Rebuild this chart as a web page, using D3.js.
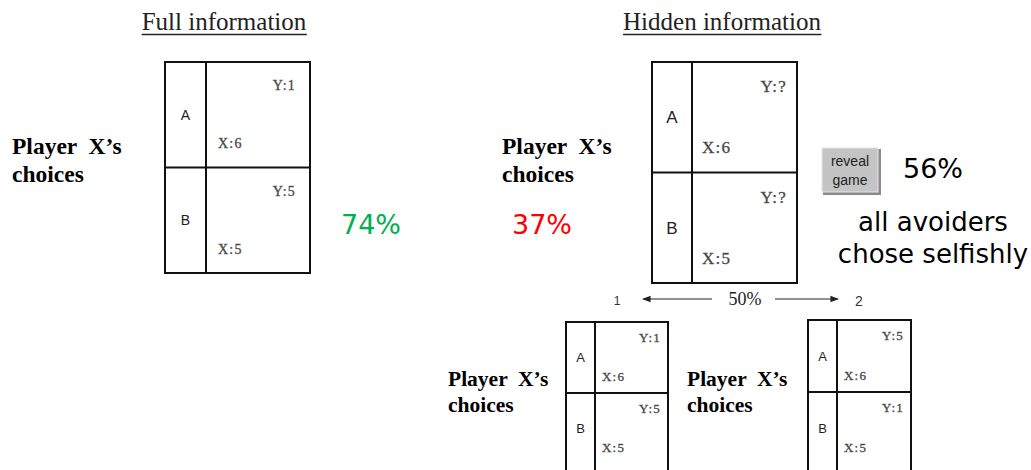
<!DOCTYPE html>
<html>
<head>
<meta charset="utf-8">
<script src="https://cdn.jsdelivr.net/npm/d3@7"></script>
<style>
  body { margin: 0; background: #fff; }
  svg { display: block; }
  text { white-space: pre; }
</style>
</head>
<body>
<svg id="fig" width="1031" height="470"></svg>
<script>
// Data
var choices = ["A", "B"];
var payoffX = [6, 5];
var fullY = ["1", "5"];
var hiddenY = ["?", "?"];
var game1Y = ["1", "5"];
var game2Y = ["5", "1"];
var titles = ["Full information", "Hidden information"];
var playerLabel = ["Player  X\u2019s", "choices"];
var selfishShare = ["74%", "37%", "56%"];
var splitShare = "50%";
var avoiderNote = ["all avoiders", "chose selfishly"];

var svg = d3.select("#fig");

// Titles, underlined
function title(txt, cx) {
  let t = svg.append("text")
    .attr("x", cx)
    .attr("y", 30)
    .attr("text-anchor", "middle")
    .attr("font-family", "Liberation Serif, Times New Roman, serif")
    .attr("font-size", 25)
    .attr("fill", "#222")
    .text(txt);
  let bb = t.node().getBBox();
  svg.append("line")
    .attr("x1", bb.x).attr("x2", bb.x + bb.width)
    .attr("y1", 34.5).attr("y2", 34.5)
    .attr("stroke", "#222")
    .attr("stroke-width", 1.5);
}
title(titles[0], 224);
title(titles[1], 722);

// "Player X's choices" text block
function player(x, y, size, lead) {
  let t = svg.append("text")
    .attr("font-family", "Liberation Serif, Times New Roman, serif")
    .attr("font-weight", "bold")
    .attr("font-size", size)
    .attr("fill", "#000");
  t.selectAll("tspan")
    .data(playerLabel)
    .enter().append("tspan")
      .attr("x", x)
      .attr("y", (d, i) => y + i * lead)
      .text(d => d);
}
player(12, 154, 23.5, 28);
player(502, 154, 23.5, 28);
player(448, 386, 21.5, 26);
player(687, 386, 21.5, 26);

// Payoff matrix
function matrix(m, yPay) {
  let g = svg.append("g").attr("transform", `translate(${m.x}, ${m.y})`);
  let rows = d3.scaleBand()
    .domain(choices)
    .range([0, 2 * m.rowH]);

  g.append("rect")
    .attr("width", m.w).attr("height", m.h)
    .attr("fill", "#fff")
    .attr("stroke", "#111")
    .attr("stroke-width", 2);

  g.append("line")
    .attr("x1", m.labelW).attr("x2", m.labelW)
    .attr("y1", 0).attr("y2", m.h)
    .attr("stroke", "#111").attr("stroke-width", 2);

  g.append("line")
    .attr("x1", 0).attr("x2", m.w)
    .attr("y1", rows("B")).attr("y2", rows("B"))
    .attr("stroke", "#111").attr("stroke-width", 2);

  let cell = g.selectAll(".cell")
    .data(choices)
    .enter().append("g")
      .attr("class", "cell")
      .attr("transform", d => `translate(0, ${rows(d)})`);

  cell.append("text")
    .attr("x", m.labelW / 2)
    .attr("y", rows.bandwidth() / 2)
    .attr("dy", "0.35em")
    .attr("text-anchor", "middle")
    .attr("font-family", "Liberation Sans, Arial, sans-serif")
    .attr("font-size", m.fs + 1)
    .attr("fill", "#222")
    .text(d => d);

  cell.append("text")
    .attr("x", m.w - m.padR)
    .attr("y", rows.bandwidth() * 0.22)
    .attr("dy", "0.35em")
    .attr("text-anchor", "end")
    .attr("font-family", "Liberation Serif, Times New Roman, serif")
    .attr("font-size", m.fs + 1)
    .attr("letter-spacing", 1.2)
    .attr("fill", "#444")
    .attr("stroke", "#555")
    .attr("stroke-width", 0.35)
    .text((d, i) => "Y:" + yPay[i]);

  cell.append("text")
    .attr("x", m.labelW + m.padL)
    .attr("y", rows.bandwidth() * 0.77)
    .attr("dy", "0.35em")
    .attr("font-family", "Liberation Serif, Times New Roman, serif")
    .attr("font-size", m.fs + 1)
    .attr("letter-spacing", 1.2)
    .attr("fill", "#444")
    .attr("stroke", "#555")
    .attr("stroke-width", 0.35)
    .text((d, i) => "X:" + payoffX[i]);
}

matrix({x: 165, y: 62, w: 145, h: 211, rowH: 105.5, labelW: 41, fs: 13, padL: 12, padR: 14}, fullY);
matrix({x: 652, y: 62, w: 145, h: 221, rowH: 110.5, labelW: 40, fs: 16, padL: 10, padR: 10}, hiddenY);
matrix({x: 566, y: 322, w: 102, h: 160, rowH: 71, labelW: 29, fs: 12, padL: 7, padR: 7}, game1Y);
matrix({x: 808, y: 320, w: 103, h: 160, rowH: 72, labelW: 29, fs: 12, padL: 7, padR: 7}, game2Y);

// Percentages
var pctFont = "DejaVu Sans, Verdana, sans-serif";
svg.append("text").attr("x", 371).attr("y", 234)
  .attr("text-anchor", "middle").attr("font-family", pctFont).attr("font-size", 27)
  .attr("fill", "#00b050").text(selfishShare[0]);
svg.append("text").attr("x", 542).attr("y", 234)
  .attr("text-anchor", "middle").attr("font-family", pctFont).attr("font-size", 27)
  .attr("fill", "#ff0000").text(selfishShare[1]);
svg.append("text").attr("x", 933).attr("y", 178)
  .attr("text-anchor", "middle").attr("font-family", pctFont).attr("font-size", 27)
  .attr("fill", "#000").text(selfishShare[2]);

svg.append("text")
  .attr("font-family", pctFont).attr("font-size", 26).attr("fill", "#000")
  .attr("text-anchor", "middle")
  .selectAll("tspan")
  .data(avoiderNote)
  .enter().append("tspan")
    .attr("x", 933)
    .attr("y", (d, i) => 231 + i * 32)
    .text(d => d);

// Reveal button
var btn = svg.append("g").attr("transform", "translate(822, 148)");
btn.append("rect").attr("x", 1).attr("y", 1).attr("width", 58).attr("height", 46).attr("fill", "#8a8a8a");
btn.append("rect").attr("width", 56).attr("height", 44).attr("fill", "#c4c4c4")
  .attr("stroke", "#e6e6e6").attr("stroke-width", 1);
btn.append("text")
  .attr("font-family", "Liberation Sans, Arial, sans-serif")
  .attr("font-size", 14).attr("fill", "#222").attr("text-anchor", "middle")
  .selectAll("tspan")
  .data(["reveal", "game"])
  .enter().append("tspan")
    .attr("x", 28)
    .attr("y", (d, i) => 18 + i * 19)
    .text(d => d);

// 50% split arrow
var defs = svg.append("defs");
defs.append("marker")
  .attr("id", "head")
  .attr("viewBox", "0 0 10 10")
  .attr("refX", 9).attr("refY", 5)
  .attr("markerWidth", 7).attr("markerHeight", 7)
  .attr("orient", "auto")
  .append("path").attr("d", "M0,1L10,5L0,9Z").attr("fill", "#222");

svg.append("line").attr("x1", 712).attr("x2", 643).attr("y1", 299).attr("y2", 299)
  .attr("stroke", "#222").attr("stroke-width", 1.2).attr("marker-end", "url(#head)");
svg.append("line").attr("x1", 775).attr("x2", 838).attr("y1", 299).attr("y2", 299)
  .attr("stroke", "#222").attr("stroke-width", 1.2).attr("marker-end", "url(#head)");
svg.append("text").attr("x", 745).attr("y", 305)
  .attr("text-anchor", "middle").attr("font-family", "Liberation Serif, Times New Roman, serif")
  .attr("font-size", 18).attr("fill", "#222").text(splitShare);
svg.append("text").attr("x", 617).attr("y", 305)
  .attr("text-anchor", "middle").attr("font-family", "Liberation Sans, Arial, sans-serif")
  .attr("font-size", 12).attr("fill", "#333").text("1");
svg.append("text").attr("x", 859).attr("y", 306)
  .attr("text-anchor", "middle").attr("font-family", "Liberation Sans, Arial, sans-serif")
  .attr("font-size", 14).attr("fill", "#333").text("2");
</script>
</body>
</html>
